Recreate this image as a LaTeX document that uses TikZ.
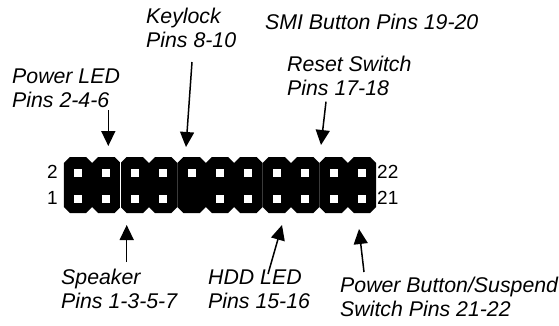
\documentclass[tikz,border=0pt]{standalone}
\usepackage{fontspec}
\setmainfont{Liberation Sans}
\usetikzlibrary{arrows.meta}
\begin{document}
\begin{tikzpicture}[x=1pt,y=-1pt,
  lbl/.style={anchor=base west,inner sep=0pt,font=\fontsize{21.3}{24}\selectfont\itshape},
  num/.style={inner sep=0pt,font=\fontsize{19}{22}\selectfont},
  arr/.style={line width=1.5pt,-{Triangle[length=15pt,width=14pt]}},
  pinhole/.style={fill=white,draw=none},
  pinbody/.style={fill=black,draw=none}]
\useasboundingbox (0,0) rectangle (559,325);
% header body: 11 chamfered columns
\foreach \i in {0,...,10}{
  \pgfmathsetmacro{\c}{78+28.4*\i}
  \fill[pinbody] (\c-14.2,163) -- (\c-8.2,157) -- (\c+8.2,157) -- (\c+14.2,163)
    -- (\c+14.2,207) -- (\c+8.2,213) -- (\c-8.2,213) -- (\c-14.2,207) -- cycle;
}
\draw[white,line width=1pt] (120.6,157) -- (120.6,213);
% pin holes
\foreach \i in {0,...,10}{
  \pgfmathsetmacro{\c}{78+28.4*\i}
  \fill[pinhole] (\c-4,168.5) rectangle (\c+4,176.5);
}
\foreach \i in {0,1,2,3,5,6,7,8,9,10}{
  \pgfmathsetmacro{\c}{78+28.4*\i}
  \fill[pinhole] (\c-4,195) rectangle (\c+4,203);
}
% pin numbers
\node[num,anchor=base east] (n2) at (58,178.5) {2};
\node[num,anchor=base east] (n1) at (58,204.5) {1};
\node[num,anchor=base west] (n22) at (377,178.5) {22};
\node[num,anchor=base west] (n21) at (377,204.5) {21};
% labels
\node[lbl] (key1) at (146,23) {Keylock};
\node[lbl] (key2) at (146,47) {Pins 8-10};
\node[lbl] (smi) at (265,29) {SMI Button Pins 19-20};
\node[lbl] (pled1) at (12,83) {Power LED};
\node[lbl] (pled2) at (12,107) {Pins 2-4-6};
\node[lbl] (rst1) at (287,71) {Reset Switch};
\node[lbl] (rst2) at (287,95) {Pins 17-18};
\node[lbl] (spk1) at (61,284) {Speaker};
\node[lbl] (spk2) at (61,308) {Pins 1-3-5-7};
\node[lbl] (hdd1) at (208,284) {HDD LED};
\node[lbl] (hdd2) at (208,308) {Pins 15-16};
\node[lbl] (pwr1) at (340,292) {Power Button/Suspend};
\node[lbl] (pwr2) at (340,316) {Switch Pins 21-22};
% arrow end points
\coordinate (pledS) at (108.3,110);  \coordinate (pledT) at (108.3,146);
\coordinate (keyS) at (192,62);      \coordinate (keyT) at (186,147);
\coordinate (rstS) at (326,101.7);   \coordinate (rstT) at (321,145);
\coordinate (spkS) at (126.7,262);   \coordinate (spkT) at (126.7,225);
\coordinate (hddS) at (268,274);     \coordinate (hddT) at (282,225);
\coordinate (pwrS) at (364,272);     \coordinate (pwrT) at (359,229);
\draw[arr] (pledS) -- (pledT);
\draw[arr] (keyS) -- (keyT);
\draw[arr] (rstS) -- (rstT);
\draw[arr] (spkS) -- (spkT);
\draw[arr] (hddS) -- (hddT);
\draw[arr] (pwrS) -- (pwrT);
\end{tikzpicture}
\end{document}
